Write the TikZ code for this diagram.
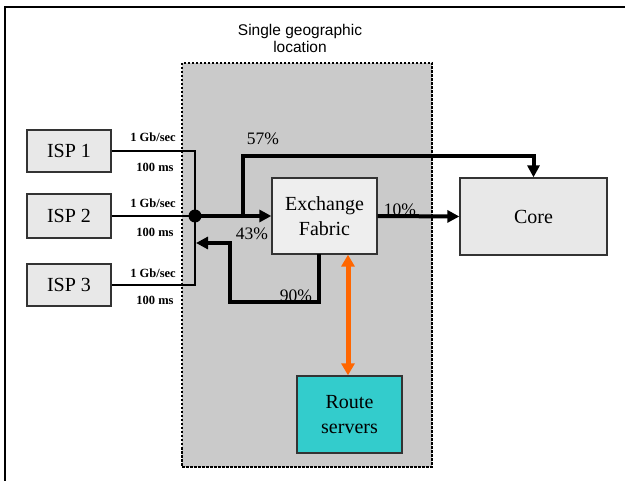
\documentclass[tikz,border=0pt]{standalone}
\usepackage{fontspec}
\setmainfont{Liberation Serif}
\newfontfamily\arialfont{Liberation Sans}
\usetikzlibrary{arrows.meta,calc}
\definecolor{regiongray}{HTML}{CACACA}
\definecolor{boxgray}{HTML}{E8E8E8}
\definecolor{efgray}{HTML}{EEEEEE}
\definecolor{rsteal}{HTML}{33CCCC}
\definecolor{orangearrow}{HTML}{FF6600}
\definecolor{boxline}{HTML}{333333}
\tikzset{
  box/.style={draw=boxline, line width=1.3pt, fill=boxgray, inner sep=0pt,
    font=\fontsize{20}{25}\selectfont, align=center},
  link/.style={line width=2.6pt, black},
  flow/.style={line width=4pt, black, -{Triangle[length=12pt,width=12pt]}},
  pct/.style={font=\fontsize{17.5}{20}\selectfont, inner sep=0pt},
  small/.style={font=\fontsize{12.5}{14}\selectfont\bfseries, inner sep=0pt},
}
\begin{document}
\begin{tikzpicture}[x=1pt,y=-1pt]
\useasboundingbox (0,0) rectangle (625,481);
% outer frame (top and left edges only visible)
\draw[line width=2pt] (5,481) -- (5,7) -- (625,7);
% region
\node[draw, fill=regiongray, line width=1.6pt, dash pattern=on 2.5pt off 1.5pt,
  minimum width=250pt, minimum height=404pt, inner sep=0pt] (region) at (307,265) {};
\node[font=\arialfont\fontsize{15.5}{17}\selectfont, align=center, inner sep=0pt]
  (title) at (300,38) {Single geographic\\location};
% boxes
\node[box, minimum width=84pt, minimum height=42pt] (isp1) at (69,151) {ISP 1};
\node[box, minimum width=84pt, minimum height=44pt] (isp2) at (69,216) {ISP 2};
\node[box, minimum width=84pt, minimum height=42pt] (isp3) at (69,285) {ISP 3};
\node[box, fill=efgray, minimum width=105pt, minimum height=76pt] (ef) at (324.5,216) {Exchange\\Fabric};
\node[box, minimum width=147pt, minimum height=77pt] (core) at (533.5,216.5) {Core};
\node[box, fill=rsteal, minimum width=105pt, minimum height=77pt] (rs) at (349.5,414.5) {Route\\servers};
% junction
\coordinate (b1) at (195,151);
\coordinate (b3) at (195,285);
\node[circle, fill=black, minimum size=13pt, inner sep=0pt] (dot) at (195,216) {};
\draw[link] (isp1.east) -- (b1) -- (b3) -- (isp3.east);
\draw[link] (isp2.east) -- (dot.center);
% link labels
\node[small] (l1a) at (153,137) {1 Gb/sec};
\node[small] (l1b) at (155,167) {100 ms};
\node[small] (l2a) at (153,203) {1 Gb/sec};
\node[small] (l2b) at (155,232) {100 ms};
\node[small] (l3a) at (153,273) {1 Gb/sec};
\node[small] (l3b) at (155,300) {100 ms};
% flows
\draw[flow] (dot.center) -- (ef.west);
\coordinate (s57) at (243,216);
\coordinate (t57) at (243,156);
\draw[flow] (s57) -- (t57) -| (core.north);
\draw[flow] (ef.east) -- (core.west);
\coordinate (r0) at (319,254);
\coordinate (r1) at (319,302);
\coordinate (r2) at (230,302);
\coordinate (r3) at (230,243);
\coordinate (r4) at (196,243);
\draw[flow, line join=miter] (r0) -- (r1) -- (r2) -- (r3) -- (r4);
\coordinate (ox) at (348,0);
\draw[line width=5pt, orangearrow, {Triangle[length=12pt,width=13pt]}-{Triangle[length=12pt,width=13pt]}]
  (ef.south -| ox) -- (rs.north -| ox);
% percentages
\node[pct] (p57) at (263,139) {57\%};
\node[pct] (p43) at (252,234) {43\%};
\node[pct] (p10) at (400,210) {10\%};
\node[pct] (p90) at (296,296) {90\%};
\end{tikzpicture}
\end{document}
